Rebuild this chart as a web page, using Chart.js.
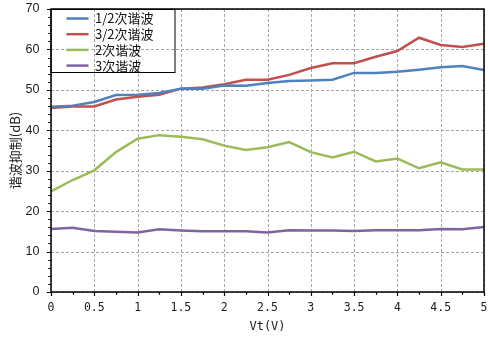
<!DOCTYPE html>
<html>
<head>
<meta charset="utf-8">
<script src="https://cdn.jsdelivr.net/npm/chart.js@4/dist/chart.umd.min.js"></script>
<style>
  html, body { margin: 0; padding: 0; background: #fff; }
  #wrap { width: 488px; height: 338px; }
</style>
</head>
<body>
<div id="wrap"><canvas id="c" width="488" height="338"></canvas></div>
<script>
// Control voltage Vt (V)
const vt = [0, 0.25, 0.5, 0.75, 1, 1.25, 1.5, 1.75, 2, 2.25, 2.5, 2.75, 3, 3.25, 3.5, 3.75, 4, 4.25, 4.5, 4.75, 5];

// Harmonic suppression (dB)
const halfHarmonic = [45.8, 46.1, 47.0, 48.7, 48.8, 49.2, 50.3, 50.3, 51.1, 51.0, 51.7, 52.2, 52.3, 52.5, 54.2, 54.2, 54.5, 55.0, 55.6, 55.9, 54.9];
const threeHalfHarmonic = [45.5, 45.9, 45.9, 47.6, 48.3, 48.8, 50.3, 50.6, 51.4, 52.5, 52.5, 53.7, 55.4, 56.6, 56.6, 58.2, 59.6, 62.9, 61.1, 60.6, 61.4];
const secondHarmonic = [24.9, 27.7, 30.1, 34.6, 37.9, 38.8, 38.4, 37.8, 36.2, 35.1, 35.8, 37.1, 34.6, 33.3, 34.7, 32.3, 33.0, 30.6, 32.1, 30.3, 30.3];
const thirdHarmonic = [15.6, 15.9, 15.1, 14.9, 14.7, 15.5, 15.2, 15.0, 15.0, 15.0, 14.7, 15.3, 15.2, 15.2, 15.1, 15.3, 15.3, 15.3, 15.6, 15.5, 16.1];

const seriesNames = ['1/2次谐波', '3/2次谐波', '2次谐波', '3次谐波'];
const seriesColors = ['#4F81BD', '#C0504D', '#9BBB59', '#8064A2'];

const xTickLabels = ['0', '0.5', '1', '1.5', '2', '2.5', '3', '3.5', '4', '4.5', '5'];
const yTickLabels = ['0', '10', '20', '30', '40', '50', '60', '70'];

const xTitle = 'Vt(V)';
const yTitle = '谐波抑制(dB)';

const allSeries = [halfHarmonic, threeHalfHarmonic, secondHarmonic, thirdHarmonic];

const datasets = allSeries.map((vals, i) => ({
  label: seriesNames[i],
  data: vals.map((v, k) => ({ x: vt[k], y: v })),
  borderColor: seriesColors[i],
  backgroundColor: seriesColors[i],
  borderWidth: 2.5,
  pointRadius: 0,
  tension: 0,
  fill: false
}));

// Dashed grid behind the lines
const gridPlugin = {
  id: 'dashGrid',
  beforeDatasetsDraw(chart) {
    const ctx = chart.ctx;
    const a = chart.chartArea;
    const xs = chart.scales.x, ys = chart.scales.y;
    ctx.save();
    ctx.strokeStyle = '#A6A6A6';
    ctx.lineWidth = 1;
    ctx.setLineDash([3, 2]);
    ctx.beginPath();
    xs.ticks.forEach(t => {
      const px = Math.round(xs.getPixelForValue(t.value)) + 0.5;
      ctx.moveTo(px, a.top);
      ctx.lineTo(px, a.bottom);
    });
    ys.ticks.forEach(t => {
      const py = Math.round(ys.getPixelForValue(t.value)) + 0.5;
      ctx.moveTo(a.left, py);
      ctx.lineTo(a.right, py);
    });
    ctx.stroke();
    ctx.restore();
  }
};

// Frame, minor/major tick marks and a boxed legend inside the plot
const framePlugin = {
  id: 'frame',
  afterDraw(chart) {
    const ctx = chart.ctx;
    const a = chart.chartArea;
    const xs = chart.scales.x, ys = chart.scales.y;
    ctx.save();
    ctx.strokeStyle = '#000';
    ctx.lineWidth = 1.5;
    ctx.strokeRect(a.left, a.top, a.right - a.left, a.bottom - a.top);

    ctx.lineWidth = 1.2;
    ctx.beginPath();
    for (let i = 0; i <= 20; i++) {
      const v = i * 0.25;
      const px = Math.round(xs.getPixelForValue(v)) + 0.5;
      const len = (i % 2 === 0) ? 4 : 2.7;
      ctx.moveTo(px, a.bottom);
      ctx.lineTo(px, a.bottom + len);
    }
    for (let i = 0; i <= 35; i++) {
      const v = i * 2;
      const py = Math.round(ys.getPixelForValue(v)) + 0.5;
      const len = (i % 5 === 0) ? 4 : 2.7;
      ctx.moveTo(a.left, py);
      ctx.lineTo(a.left - len, py);
    }
    ctx.stroke();

    // legend
    const lx = a.left, ly = a.top, lw = 124, lh = 63;
    ctx.lineWidth = 1;
    ctx.strokeStyle = '#000';
    ctx.strokeRect(lx, ly + 0.5, lw, lh);
    ctx.font = '13px "Noto Sans CJK SC", sans-serif';
    ctx.textBaseline = 'middle';
    ctx.textAlign = 'left';
    chart.data.datasets.forEach((ds, i) => {
      const cy = ly + 9.5 + i * 15.7;
      ctx.strokeStyle = ds.borderColor;
      ctx.lineWidth = 2.5;
      ctx.beginPath();
      ctx.moveTo(66.5, cy);
      ctx.lineTo(88.5, cy);
      ctx.stroke();
      ctx.fillStyle = '#111';
      ctx.fillText(ds.label, 95, cy);
    });
    ctx.restore();
  }
};

new Chart(document.getElementById('c'), {
  type: 'line',
  data: { datasets },
  options: {
    responsive: false,
    animation: false,
    layout: { padding: { top: 9, right: 4, left: 0, bottom: 0 } },
    plugins: { legend: { display: false }, tooltip: { enabled: false } },
    scales: {
      x: {
        type: 'linear',
        min: 0, max: 5,
        afterFit(scale) {
          scale.height = 46;
          scale.paddingLeft = 0;
          scale.paddingRight = 0;
        },
        ticks: {
          stepSize: 0.5,
          padding: 9,
          color: '#222',
          font: { family: '"DejaVu Sans Mono", monospace', size: 11.5 },
          maxRotation: 0,
          autoSkip: false,
          callback: (v, i) => xTickLabels[i]
        },
        grid: { display: false, drawTicks: false },
        border: { display: false },
        title: {
          display: true,
          text: xTitle,
          color: '#222',
          font: { family: '"DejaVu Sans Mono", monospace', size: 12 },
          padding: { top: 4, bottom: 4 }
        }
      },
      y: {
        min: 0, max: 70,
        afterFit(scale) {
          scale.width = 51;
          scale.paddingTop = 0;
          scale.paddingBottom = 0;
        },
        ticks: {
          stepSize: 10,
          padding: 11.5,
          color: '#222',
          font: { family: '"Liberation Sans", Arial, sans-serif', size: 12.5 },
          callback: (v, i) => yTickLabels[i]
        },
        grid: { display: false, drawTicks: false },
        border: { display: false },
        title: {
          display: true,
          text: yTitle,
          color: '#222',
          font: { family: '"Noto Sans CJK SC", sans-serif', size: 13 },
          padding: { top: 7, bottom: 4 }
        }
      }
    }
  },
  plugins: [gridPlugin, framePlugin]
});
</script>
</body>
</html>
